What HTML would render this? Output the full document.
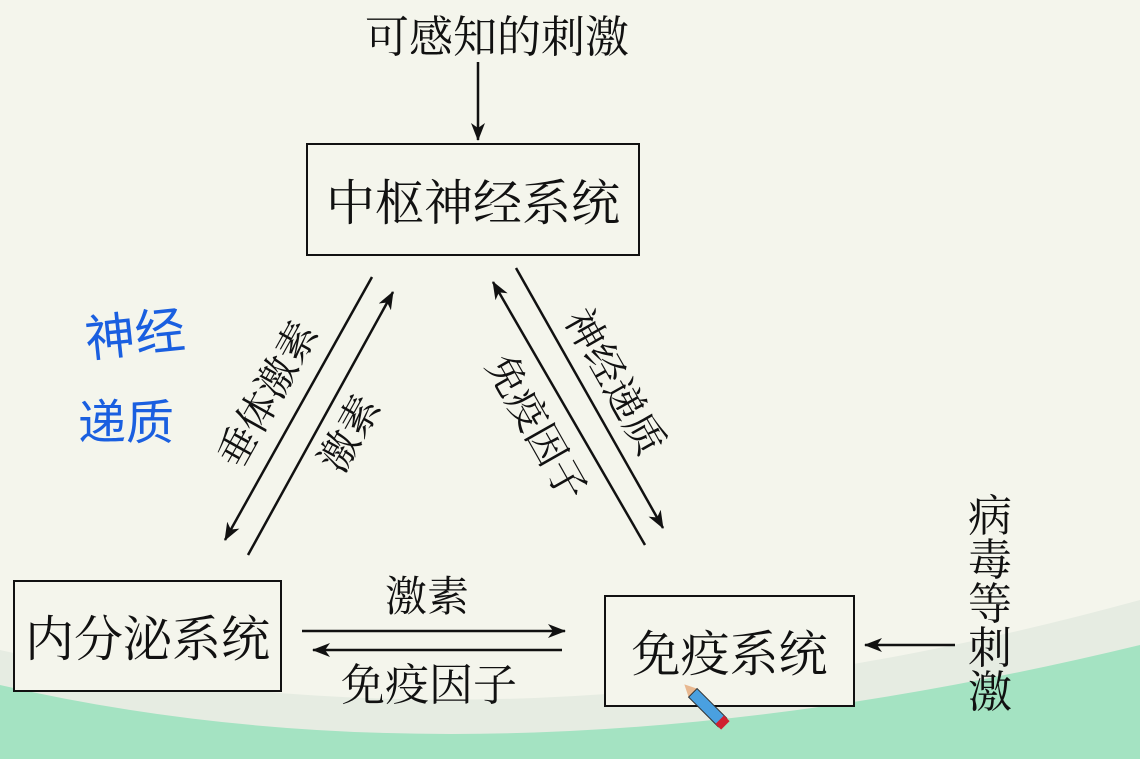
<!DOCTYPE html>
<html><head><meta charset="utf-8"><style>
html,body{margin:0;padding:0;}
body{width:1140px;height:759px;background:#f4f5ec;position:relative;overflow:hidden;font-family:"Liberation Serif","Noto Serif CJK SC",serif;color:#111;}
.t{position:absolute;white-space:nowrap;line-height:1;}
.box{position:absolute;border:2px solid #111;box-sizing:border-box;display:flex;align-items:center;justify-content:center;background:#f4f5ec;}
</style></head><body>
<svg width="1140" height="759" style="position:absolute;left:0;top:0">
<defs>
<marker id="b" markerWidth="18" markerHeight="14" refX="17" refY="7" orient="auto" markerUnits="userSpaceOnUse" viewBox="0 0 18 14"><path d="M0,0 L18,7 L0,14 L5,7z" fill="#111"/></marker></defs>
<path d="M0,650 Q520,770 1140,600 L1140,759 L0,759z" fill="#e6ece2"/>
<path d="M0,685 Q500,800 1140,645 L1140,759 L0,759z" fill="#a4e3c2"/>
<g stroke="#111" stroke-width="2.5" fill="none">
<line x1="478" y1="62" x2="478" y2="140" marker-end="url(#b)"/>
<line x1="372" y1="277" x2="225" y2="540" marker-end="url(#b)"/>
<line x1="248" y1="555" x2="393" y2="292" marker-end="url(#b)"/>
<line x1="516" y1="268" x2="663" y2="528" marker-end="url(#b)"/>
<line x1="645" y1="545" x2="493" y2="282" marker-end="url(#b)"/>
<line x1="302" y1="631" x2="565" y2="631" marker-end="url(#b)"/>
<line x1="562" y1="650" x2="313" y2="650" marker-end="url(#b)"/>
<line x1="955" y1="645" x2="865" y2="645" marker-end="url(#b)"/>
</g>
</svg>
<div class="t" style="left:497px;top:38px;font-size:44px;transform:translate(-50%,-50%);">可感知的刺激</div>
<div class="box" style="left:306px;top:143px;width:334px;height:113px;font-size:49px;">中枢神经系统</div>
<div class="box" style="left:13px;top:580px;width:269px;height:112px;font-size:49px;">内分泌系统</div>
<div class="box" style="left:604px;top:595px;width:251px;height:112px;font-size:49px;">免疫系统</div>
<div class="t" style="left:427px;top:598px;font-size:42px;transform:translate(-50%,-50%);">激素</div>
<div class="t" style="left:429px;top:686px;font-size:44px;transform:translate(-50%,-50%);">免疫因子</div>
<div class="t" style="left:268px;top:395px;font-size:40px;transform:translate(-50%,-50%) rotate(-60.8deg);">垂体激素</div>
<div class="t" style="left:350px;top:434px;font-size:40px;transform:translate(-50%,-50%) rotate(-60.8deg);">激素</div>
<div class="t" style="left:614px;top:382px;font-size:40px;transform:translate(-50%,-50%) rotate(60.5deg);">神经递质</div>
<div class="t" style="left:536px;top:428px;font-size:40px;transform:translate(-50%,-50%) rotate(60.5deg);">免疫因子</div>
<div class="t" style="left:968px;top:495px;font-size:44px;width:46px;line-height:44px;white-space:normal;">病毒等刺激</div>
<div class="t" style="left:85px;top:310px;font-size:50px;color:#1a5fe0;font-family:'WenQuanYi Zen Hei',sans-serif;transform:rotate(-6deg);">神经</div>
<div class="t" style="left:78px;top:400px;font-size:48px;color:#1a5fe0;font-family:'WenQuanYi Zen Hei',sans-serif;">递质</div>
<svg width="70" height="70" style="position:absolute;left:680px;top:680px">
<g transform="rotate(45 10 10)"><polygon points="2,10 14,4 14,16" fill="#e8b890"/><rect x="14" y="4" width="42" height="12" fill="#4aa0e0" stroke="#333" stroke-width="1"/><rect x="52" y="4" width="8" height="12" fill="#d02030"/></g>
</svg>
</body></html>
